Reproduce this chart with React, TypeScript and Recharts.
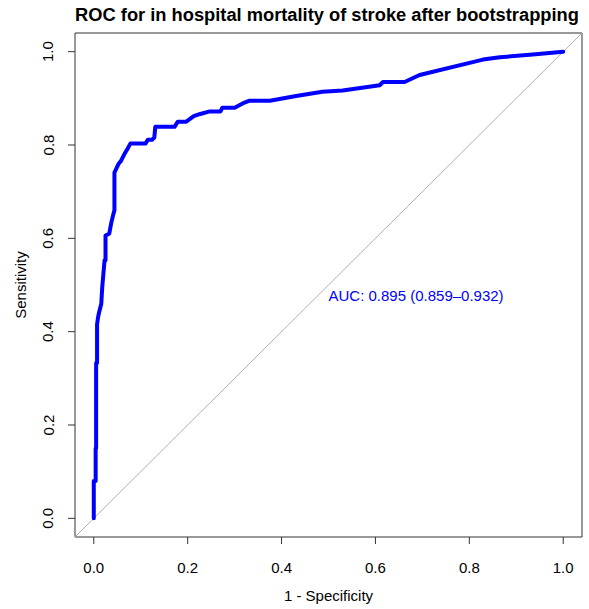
import React from "react";
import {
  LineChart,
  Line,
  XAxis,
  YAxis,
  ReferenceLine,
  ReferenceArea,
  ReferenceDot,
  Label,
} from "recharts";

// ROC curve points (1 - specificity, sensitivity)
const fpr = [
  0, 0, 0.004, 0.004, 0.005, 0.005, 0.007, 0.007, 0.009, 0.011, 0.016, 0.018,
  0.021, 0.023, 0.025, 0.025, 0.033, 0.037, 0.042, 0.044, 0.044, 0.053, 0.058,
  0.065, 0.072, 0.078, 0.11, 0.115, 0.124, 0.129, 0.131, 0.172, 0.179, 0.197,
  0.213, 0.225, 0.247, 0.27, 0.274, 0.3, 0.317, 0.332, 0.375, 0.431, 0.487,
  0.53, 0.609, 0.616, 0.662, 0.694, 0.829, 0.865, 0.935, 1.0,
];
const sens = [
  0, 0.08, 0.08, 0.15, 0.15, 0.333, 0.333, 0.416, 0.43, 0.44, 0.46, 0.495,
  0.53, 0.553, 0.553, 0.606, 0.61, 0.632, 0.653, 0.66, 0.741, 0.76, 0.766,
  0.78, 0.792, 0.803, 0.803, 0.811, 0.811, 0.816, 0.839, 0.839, 0.85, 0.85,
  0.862, 0.866, 0.872, 0.872, 0.88, 0.88, 0.889, 0.895, 0.895, 0.905, 0.914,
  0.917, 0.928, 0.935, 0.935, 0.95, 0.983, 0.988, 0.994, 1.0,
];

const xTicks = [0, 0.2, 0.4, 0.6, 0.8, 1.0];
const yTicks = [0, 0.2, 0.4, 0.6, 0.8, 1.0];
const tickLabels = ["0.0", "0.2", "0.4", "0.6", "0.8", "1.0"];

const titleText = "ROC for in hospital mortality of stroke after bootstrapping";
const xTitle = "1 - Specificity";
const yTitle = "Sensitivity";
const aucText = "AUC: 0.895 (0.859\u20130.932)";
const aucPos = { x: 0.5, y: 0.5 };

const rocData = fpr.map((f, i) => ({ fpr: f, sens: sens[i] }));

const FONT = "'Liberation Sans', Arial, sans-serif";

const fmt = (v: number) => {
  const i = xTicks.findIndex((t) => Math.abs(t - v) < 1e-9);
  return i >= 0 ? tickLabels[i] : String(v);
};

const XTick = (props: any) => {
  const { x, y, payload } = props;
  return (
    <text
      x={x}
      y={y + 21}
      textAnchor="middle"
      dominantBaseline="central"
      fontFamily={FONT}
      fontSize={15}
      fill="#000"
    >
      {fmt(payload.value)}
    </text>
  );
};

const YTick = (props: any) => {
  const { x, y, payload } = props;
  const cx = x - 18;
  return (
    <text
      x={cx}
      y={y}
      transform={`rotate(-90, ${cx}, ${y})`}
      textAnchor="middle"
      dominantBaseline="central"
      fontFamily={FONT}
      fontSize={15}
      fill="#000"
    >
      {fmt(payload.value)}
    </text>
  );
};

export default function App() {
  return (
    <div style={{ position: "absolute", left: 0, top: 0, width: 589, height: 609, background: "#fff" }}>
      <div
        style={{
          position: "absolute",
          left: 72,
          top: 4,
          width: 510,
          textAlign: "center",
          fontFamily: FONT,
          fontWeight: "bold",
          fontSize: 18.3,
          lineHeight: "22px",
          color: "#000",
          whiteSpace: "nowrap",
        }}
      >
        {titleText}
      </div>
      <LineChart
        width={589}
        height={609}
        data={rocData}
        margin={{ top: 33, right: 7, bottom: 0, left: 0 }}
      >
        <XAxis
          dataKey="fpr"
          type="number"
          domain={[-0.04, 1.04]}
          ticks={xTicks}
          allowDataOverflow
          height={72}
          tickSize={7}
          tickMargin={2}
          axisLine={false}
          tickLine={{ stroke: "#333" }}
          tick={<XTick />}
        >
          <Label
            content={(p: any) => {
              const vb = p.viewBox;
              return (
                <text
                  x={vb.x + vb.width / 2}
                  y={vb.y + 58}
                  textAnchor="middle"
                  dominantBaseline="central"
                  fontFamily={FONT}
                  fontSize={15}
                  fill="#000"
                >
                  {xTitle}
                </text>
              );
            }}
          />
        </XAxis>
        <YAxis
          dataKey="sens"
          type="number"
          domain={[-0.04, 1.04]}
          ticks={yTicks}
          allowDataOverflow
          width={75}
          tickSize={7}
          tickMargin={2}
          axisLine={false}
          tickLine={{ stroke: "#333" }}
          tick={<YTick />}
        >
          <Label
            content={(p: any) => {
              const vb = p.viewBox;
              const cx = 20;
              const cy = vb.y + vb.height / 2;
              return (
                <text
                  x={cx}
                  y={cy}
                  transform={`rotate(-90, ${cx}, ${cy})`}
                  textAnchor="middle"
                  dominantBaseline="central"
                  fontFamily={FONT}
                  fontSize={15}
                  fill="#000"
                >
                  {yTitle}
                </text>
              );
            }}
          />
        </YAxis>
        <ReferenceArea
          x1={-0.04}
          x2={1.04}
          y1={-0.04}
          y2={1.04}
          fill="none"
          fillOpacity={0}
          stroke="#333"
          strokeWidth={1}
          ifOverflow="visible"
        />
        <ReferenceLine
          segment={[
            { x: -0.04, y: -0.04 },
            { x: 1.04, y: 1.04 },
          ]}
          stroke="#b0b0b0"
          strokeWidth={1}
          ifOverflow="visible"
        />
        <Line
          dataKey="sens"
          type="linear"
          stroke="#0000FF"
          strokeWidth={4}
          strokeLinejoin="round"
          strokeLinecap="round"
          dot={false}
          activeDot={false}
          isAnimationActive={false}
        />
        <ReferenceDot
          x={aucPos.x}
          y={aucPos.y}
          r={0}
          fill="none"
          stroke="none"
          ifOverflow="visible"
          label={(p: any) => {
            const vb = p.viewBox;
            const x0 = vb.x + (vb.width || 0) / 2;
            const y0 = vb.y + (vb.height || 0) / 2;
            return (
              <text
                x={x0}
                y={y0 + 10}
                textAnchor="start"
                dominantBaseline="central"
                fontFamily={FONT}
                fontSize={15}
                fill="#0000FF"
              >
                {aucText}
              </text>
            );
          }}
        />
      </LineChart>
    </div>
  );
}
